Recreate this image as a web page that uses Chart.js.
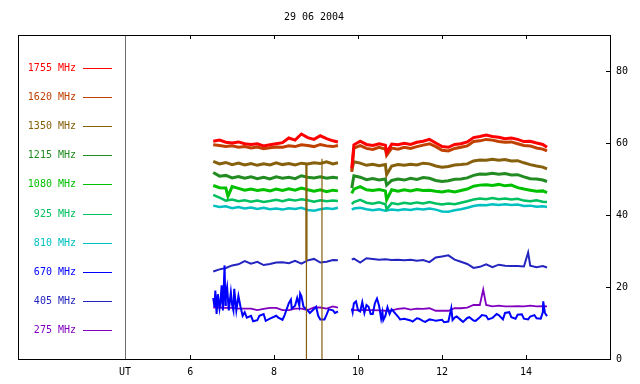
<!DOCTYPE html>
<html>
<head>
<meta charset="utf-8">
<script src="https://cdn.jsdelivr.net/npm/chart.js@4.4.1/dist/chart.umd.min.js"></script>
<style>
  html, body { margin: 0; padding: 0; background: #fff; }
</style>
</head>
<body>
<canvas id="radio" width="640" height="384"></canvas>
<script>
// dados (horas UT, fluxo)

const chartTitle = "29 06 2004";
const utPos = 4.45;
const xTicks = [6, 8, 10, 12, 14];
const yTicks = [0, 20, 40, 60, 80];

const hours = [
  6.55, 6.7, 6.85, 7.0, 7.15, 7.3, 7.45, 7.6, 7.75, 7.9, 8.05, 8.2, 8.35, 8.5, 8.65, 8.8, 8.95, 9.1, 9.25, 9.4, 9.52,
  9.7,
  9.85, 9.9, 10.05, 10.2, 10.35, 10.5, 10.65, 10.8, 10.95, 11.1, 11.25, 11.4, 11.55, 11.7, 11.85, 12.0, 12.15,
  12.3, 12.45, 12.6, 12.75, 12.9, 13.05, 13.2, 13.35, 13.5, 13.65, 13.8, 13.95, 14.1, 14.25, 14.4, 14.5,
];

const freqLabels = ["1755 MHz", "1620 MHz", "1350 MHz", "1215 MHz", "1080 MHz", "925 MHz", "810 MHz", "670 MHz", "405 MHz", "275 MHz"];
const freqColors = ["#ff0000", "#c04000", "#86600c", "#228b22", "#00c000", "#00c060", "#00c0c0", "#0000ff", "#2424c0", "#8000c0"];
const lineWidths = [3, 3, 3, 3, 3, 2.5, 2.5, 2, 2, 1.8];

const f1755 = [60.5, 60.8, 60.2, 60.0, 60.3, 59.8, 59.6, 59.8, 59.2, 59.5, 59.8, 60.1, 61.4, 60.8, 62.5, 61.5, 61.0, 62.0, 61.2, 60.6, 60.3,
  null,
  53.0, 59.5, 60.5, 59.6, 59.3, 59.8, 59.4, 59.7, 59.5, 59.9, 59.6, 60.2, 60.5, 61.0, 60.0, 59.0, 58.8, 59.6, 59.8, 60.3, 61.5, 61.8, 62.2, 61.8, 61.6, 61.2, 61.4, 61.0, 60.4, 60.5, 60.0, 59.6, 58.8];
const f1620 = [59.5, 59.3, 59.0, 59.2, 58.8, 59.0, 58.6, 58.9, 58.4, 58.7, 58.9, 58.8, 59.2, 59.0, 59.5, 59.3, 59.0, 59.6, 59.2, 59.0, 59.3,
  null,
  52.0, 58.6, 59.3, 58.5, 58.2, 58.8, 58.3, 58.6, 58.3, 58.8, 58.5, 59.0, 59.4, 59.8, 59.0, 58.0, 57.8, 58.5, 58.8, 59.2, 60.4, 60.6, 61.0, 60.8, 60.4, 60.2, 60.3, 59.8, 59.3, 59.2, 58.6, 58.3, 57.8];
const f1350 = [54.9, 54.2, 54.6, 54.0, 54.4, 53.9, 54.3, 53.8, 54.2, 53.9, 54.5, 54.0, 54.3, 53.9, 54.4, 54.2, 54.5, 54.3, 54.8, 54.2, 54.5,
  null,
  52.5, 54.8, 54.4, 53.8, 54.1, 53.7, 54.0, 53.6, 54.0, 53.8, 54.1, 53.9, 54.4, 54.2, 53.6, 53.3, 53.5, 53.9, 54.0, 54.2, 55.0, 55.3, 55.2, 55.5, 55.2, 55.4, 55.0, 55.1, 54.5, 54.0, 53.6, 53.3, 52.8];
const f1215 = [51.8, 50.8, 51.0, 50.3, 50.7, 50.2, 50.6, 50.1, 50.5, 50.0, 50.6, 50.2, 50.5, 50.1, 50.9, 50.5, 50.3, 50.6, 50.2, 50.5, 50.3,
  null,
  47.5, 50.9, 50.5, 49.8, 50.1, 49.7, 50.0, 49.6, 50.0, 49.7, 50.2, 49.9, 50.4, 50.2, 49.6, 49.3, 49.5, 49.9, 50.0, 50.3, 51.0, 51.4, 51.3, 51.6, 51.3, 51.5, 51.1, 51.2, 50.6, 50.1, 50.0, 49.7, 49.3];
const f1080 = [48.2, 47.6, 47.5, 47.9, 47.4, 46.9, 47.2, 46.8, 47.1, 46.7, 47.2, 46.8, 47.3, 46.9, 47.5, 47.0, 46.6, 47.0, 46.5, 46.9, 46.7,
  null,
  46.0, 47.2, 47.9, 47.0, 46.8, 47.1, 46.7, 47.0, 46.6, 47.0, 46.7, 47.1, 46.8, 46.9, 46.6, 46.4, 46.7, 46.4, 46.8, 47.2, 48.0, 48.3, 48.4, 48.2, 48.5, 48.1, 48.3, 47.6, 47.2, 46.9, 46.6, 46.7, 46.2];
const f925 = [45.6, 44.8, 44.0, 44.3, 43.8, 44.1, 43.7, 44.0, 43.6, 43.9, 44.2, 43.8, 44.3, 44.0, 44.4, 44.1, 43.7, 44.1, 43.8, 44.0, 43.9,
  null,
  43.0, 43.6, 44.2, 43.4, 43.1, 43.5, 43.0, 43.3, 43.0, 43.4, 43.1, 43.5, 43.2, 43.6, 43.2, 42.9, 43.2, 43.0, 43.4, 43.8, 44.3, 44.6, 44.4, 44.7, 44.4, 44.6, 44.3, 44.5, 44.0, 43.8, 44.1, 43.7, 43.6];
const f810 = [42.6, 42.2, 42.4, 41.9, 42.2, 41.8, 42.1, 41.7, 42.0, 41.6, 41.8, 41.5, 41.9, 41.7, 42.0, 41.4, 41.2, 41.6, 41.9, 41.7, 42.0,
  null,
  41.5, 41.8, 42.0, 41.6, 41.3, 41.6, 41.2, 41.5, 41.3, 41.6, 41.4, 41.7, 41.5, 41.8, 41.5, 41.0, 40.9, 41.3, 41.6, 42.0, 42.5, 42.8, 42.7, 43.0, 42.8, 43.0, 42.8, 42.9, 42.5, 42.6, 42.3, 42.4, 42.2];
const f670 = [17.0, 14.0, 18.0, 15.0, 17.5, 13.0, 12.0, 10.8, 12.5, 11.2, 12.0, 10.9, 15.5, 14.8, 17.5, 13.5, 13.9, 11.0, 12.3, 13.5, 13.2,
  null,
  14.0, 15.5, 13.2, 15.0, 12.5, 14.8, 12.0, 13.8, 11.8, 11.2, 10.7, 11.3, 10.5, 11.0, 10.6, 10.9, 10.4, 11.5, 10.8, 11.4, 10.7, 11.6, 12.0, 11.4, 12.2, 12.8, 11.6, 12.3, 11.2, 11.8, 11.3, 13.0, 11.9];
const f405 = [24.3, 24.9, 25.3, 26.0, 26.3, 27.2, 26.5, 27.0, 26.1, 26.4, 26.8, 26.9, 26.6, 27.3, 26.5, 27.4, 27.8, 26.8, 27.0, 27.5, 27.4,
  null,
  27.6, 27.9, 26.8, 28.0, 27.8, 27.6, 27.7, 27.5, 27.6, 27.4, 27.6, 27.3, 27.5, 26.9, 28.2, 28.5, 28.8, 27.6, 27.0, 26.4, 25.3, 25.6, 26.3, 25.5, 26.2, 25.9, 25.8, 25.8, 25.7, 25.9, 25.5, 25.8, 25.4];
const f275 = [14.3, 14.3, 14.2, 14.2, 14.0, 14.0, 14.0, 13.6, 13.9, 14.2, 14.2, 13.6, 13.6, 14.0, 14.0, 13.6, 14.3, 14.3, 14.0, 14.6, 14.3,
  null,
  13.6, 13.6, 13.6, 13.6, 13.6, 13.5, 13.4, 13.5, 13.9, 14.1, 13.7, 14.0, 13.9, 14.1, 13.4, 13.4, 13.4, 14.1, 14.1, 14.3, 15.0, 15.0, 15.0, 14.6, 14.8, 14.6, 14.6, 14.7, 14.6, 14.8, 14.6, 14.7, 14.6];

// picos e ruido extra [hora, valor]
const spikes1755 = [[10.68, 57.3]];
const spikes1620 = [[10.68, 56.6]];
const spikes1350 = [[10.68, 51.2]];
const spikes1215 = [[10.68, 48.3]];
const spikes1080 = [[6.9, 45.2], [10.68, 44.2]];
const spikes925 = [[10.68, 41.6]];
const spikes810 = [];
const spikes670 = [
  [6.58, 14.5], [6.6, 19.0], [6.63, 12.5], [6.66, 18.0], [6.72, 15.5], [6.75, 20.5], [6.78, 13.5], [6.82, 26.0], [6.84, 15.0],
  [6.88, 20.0], [6.92, 13.5], [6.97, 18.5], [7.03, 13.5], [7.05, 19.5], [7.1, 13.5], [7.2, 14.5], [7.25, 12.0], [7.35, 11.5],
  [7.5, 10.5], [7.65, 12.0], [7.8, 10.6], [8.1, 11.5], [8.25, 12.2], [8.4, 16.5], [8.42, 14.0], [8.55, 17.0], [8.6, 14.8],
  [8.62, 18.2], [8.7, 14.5], [8.85, 12.8], [9.0, 14.5], [9.05, 12.0], [9.2, 11.0], [9.3, 13.8], [9.45, 12.8],
  [9.87, 13.0], [9.95, 16.0], [10.0, 13.5], [10.1, 15.8], [10.15, 12.8], [10.25, 14.5], [10.3, 12.5], [10.4, 15.5],
  [10.45, 16.8], [10.55, 11.2], [10.58, 13.0], [10.6, 10.8], [10.7, 14.4], [10.75, 12.5], [11.0, 11.0], [11.3, 10.4],
  [11.45, 11.2], [11.6, 10.3], [11.8, 10.8], [12.05, 10.2], [12.22, 14.1], [12.25, 10.8], [12.35, 11.8], [12.5, 10.3],
  [12.65, 11.6], [12.8, 10.6], [12.95, 12.2], [13.1, 11.0], [13.3, 12.5], [13.45, 11.0], [13.6, 13.0], [13.75, 11.2],
  [13.9, 12.4], [14.05, 11.0], [14.2, 12.2], [14.35, 11.2], [14.41, 16.0], [14.45, 12.8],
];
const spikes405 = [[14.05, 29.6]];
const spikes275 = [[12.98, 19.3]];

// quedas verticais do canal 1350 MHz: [hora, topo, fundo, espessura]
const drops1350 = [[8.77, 54.2, 27.5, 2.2], [8.77, 54.2, -3, 1.2], [9.14, 55.6, -3, 1.2]];

const seriesValues = [f1755, f1620, f1350, f1215, f1080, f925, f810, f670, f405, f275];
const seriesSpikes = [spikes1755, spikes1620, spikes1350, spikes1215, spikes1080, spikes925, spikes810, spikes670, spikes405, spikes275];

const monoFont = "'DejaVu Sans Mono', monospace";

const buildPoints = (vals, spk) => {
  const pts = hours.map((h, i) => ({ x: h, y: vals[i] }));
  spk.forEach(([h, v]) => pts.push({ x: h, y: v }));
  return pts.sort((a, b) => a.x - b.x);
};

const datasets = freqLabels.map((lab, i) => ({
  label: lab,
  data: buildPoints(seriesValues[i], seriesSpikes[i]),
  borderColor: freqColors[i],
  backgroundColor: freqColors[i],
  borderWidth: lineWidths[i],
  borderJoinStyle: "miter",
  pointRadius: 0,
  tension: 0,
  spanGaps: false,
  clip: 0,
}));

// as quedas ficam por cima de tudo (dataset 0 e desenhado por ultimo)
drops1350.forEach(([h, top, bottom, w]) => {
  datasets.unshift({
    label: "1350 MHz queda",
    data: [{ x: h, y: top }, { x: h, y: bottom }],
    borderColor: freqColors[2],
    borderWidth: w,
    pointRadius: 0,
    clip: 0,
  });
});

// moldura, ticks internos, linha UT e legenda lateral
const frame = {
  id: "frame",
  beforeDatasetsDraw(chart) {
    const { ctx, chartArea: a, scales } = chart;
    const ux = Math.round(scales.x.getPixelForValue(utPos)) + 0.5;
    ctx.save();
    ctx.strokeStyle = "#6e6e6e";
    ctx.lineWidth = 1;
    ctx.beginPath();
    ctx.moveTo(ux, a.top);
    ctx.lineTo(ux, a.bottom);
    ctx.stroke();
    ctx.restore();
  },
  afterDraw(chart) {
    const { ctx, chartArea: a, scales } = chart;
    ctx.save();
    ctx.strokeStyle = "#000";
    ctx.lineWidth = 1;
    ctx.strokeRect(Math.round(a.left) + 0.5, Math.round(a.top) + 0.5, Math.round(a.right - a.left), Math.round(a.bottom - a.top));

    ctx.beginPath();
    xTicks.forEach((v) => {
      const px = Math.round(scales.x.getPixelForValue(v)) + 0.5;
      ctx.moveTo(px, a.top);
      ctx.lineTo(px, a.top + 4);
      ctx.moveTo(px, a.bottom);
      ctx.lineTo(px, a.bottom - 4);
    });
    yTicks.forEach((v) => {
      const py = Math.round(scales.y.getPixelForValue(v)) + 0.5;
      ctx.moveTo(a.right, py);
      ctx.lineTo(a.right - 4, py);
    });
    ctx.stroke();

    // titulo
    ctx.font = "10px " + monoFont;
    ctx.fillStyle = "#000";
    ctx.textAlign = "center";
    ctx.textBaseline = "middle";
    ctx.fillText(chartTitle, (a.left + a.right) / 2, 17);

    // legenda
    ctx.textAlign = "right";
    freqLabels.forEach((lab, i) => {
      const y = Math.round(a.top + 33 + i * 29.1) + 0.5;
      ctx.fillStyle = freqColors[i];
      ctx.fillText(lab, a.left + 58, y);
      ctx.strokeStyle = freqColors[i];
      ctx.beginPath();
      ctx.moveTo(a.left + 65, y);
      ctx.lineTo(a.left + 94, y);
      ctx.stroke();
    });
    ctx.restore();
  },
};

new Chart(document.getElementById("radio"), {
  type: "line",
  data: { datasets },
  options: {
    responsive: false,
    animation: false,
    devicePixelRatio: 1,
    layout: { padding: { left: 18, top: 35, right: 0, bottom: 0 } },
    plugins: { legend: { display: false }, title: { display: false }, tooltip: { enabled: false } },
    scales: {
      x: {
        type: "linear",
        min: 1.9,
        max: 16,
        grid: { display: false, drawTicks: false },
        border: { display: false },
        ticks: {
          padding: 7,
          color: "#000",
          font: { family: monoFont, size: 10 },
          maxRotation: 0,
          autoSkip: false,
          callback: (v) => (v === utPos ? "UT" : String(v)),
        },
        afterBuildTicks: (s) => { s.ticks = [utPos, ...xTicks].map((v) => ({ value: v })); },
        afterFit: (s) => { s.height = 25; },
      },
      y: {
        position: "right",
        min: 0,
        max: 90,
        grid: { display: false, drawTicks: false },
        border: { display: false },
        ticks: {
          padding: 6,
          color: "#000",
          font: { family: monoFont, size: 10 },
        },
        afterBuildTicks: (s) => { s.ticks = yTicks.map((v) => ({ value: v })); },
        afterFit: (s) => { s.width = 30; },
      },
    },
  },
  plugins: [frame],
});
</script>
</body>
</html>
